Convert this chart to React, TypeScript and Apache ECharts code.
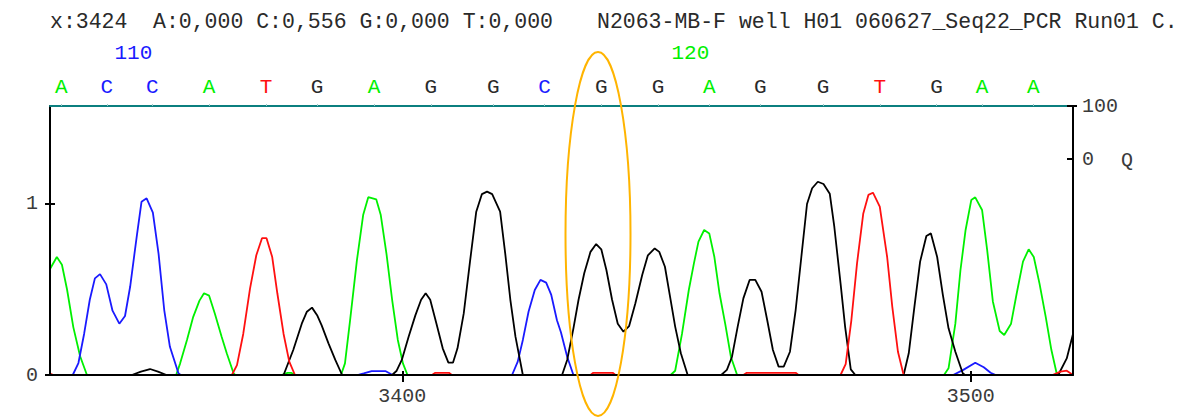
import React, { useEffect, useRef } from "react";
import * as echarts from "echarts";

// ---- axis ranges / ticks ----
const X_MIN = 3338;
const X_MAX = 3518;
const Y_MAX = 1.573;
const Q_MIN = -407.5;
const Q_MAX = 100;
const X_TICKS = [3400, 3500];
const Y_TICKS = [0, 1];
const Q_TICKS = [0, 100];

// ---- base calls ----
const BASES = ["A", "C", "C", "A", "T", "G", "A", "G", "G", "C", "G", "G", "A", "G", "G", "T", "G", "A", "A"];
const BASE_POS = [3340, 3348, 3356, 3366, 3376, 3385, 3395, 3405, 3416, 3425, 3435, 3445, 3454, 3463, 3474, 3484, 3494, 3502, 3511];
const FIRST_BASE_NUMBER = 108;
const NUMBERED = [110, 120];

// ---- header texts ----
const HEADER_CURSOR = "x:3424";
const HEADER_VALUES = "A:0,000 C:0,556 G:0,000 T:0,000";
const HEADER_SAMPLE = "N2063-MB-F well H01 060627_Seq22_PCR Run01 C.";

// ---- traces [scan, signal] ----
const TRACE_A = [
  [3338, 0.62], [3339.2, 0.69], [3340.1, 0.645], [3341, 0.5], [3342.1, 0.28], [3343.3, 0.11], [3344.5, 0],
  [3360.2, 0], [3360.9, 0.068], [3362.1, 0.205], [3363.2, 0.34], [3364.3, 0.435], [3365.1, 0.478], [3366, 0.464], [3367, 0.36], [3368.2, 0.224], [3369.1, 0.127], [3370.3, 0.01], [3370.6, 0],
  [3378.7, 0], [3379.8, 0.012], [3380.5, 0.012], [3381.2, 0],
  [3389.2, 0], [3389.9, 0.068], [3390.8, 0.32], [3392, 0.67], [3393.1, 0.935], [3394, 1.04], [3395.4, 1.027], [3396.2, 0.935], [3397.2, 0.71], [3398.2, 0.44], [3399.2, 0.205], [3400.1, 0.068], [3400.9, 0],
  [3447.2, 0], [3448, 0.025], [3449.2, 0.24], [3450.4, 0.497], [3451.3, 0.653], [3452.1, 0.78], [3453.1, 0.848], [3454, 0.828], [3454.9, 0.69], [3455.8, 0.478], [3456.8, 0.3], [3457.8, 0.107], [3458.9, 0],
  [3495.3, 0], [3496.1, 0.039], [3497.3, 0.3], [3498.2, 0.614], [3499.1, 0.848], [3500.1, 1.023], [3500.8, 1.039], [3502, 0.965], [3502.9, 0.73], [3503.9, 0.43], [3505.1, 0.257], [3505.9, 0.234], [3507.1, 0.3], [3508.1, 0.478], [3509.2, 0.663], [3510.2, 0.735], [3511.1, 0.69], [3512.1, 0.536], [3513.2, 0.34], [3514.2, 0.146], [3515.1, 0.013], [3515.5, 0], [3518, 0],
];

const TRACE_C = [
  [3338, 0], [3342, 0], [3343, 0.07], [3344, 0.24], [3345, 0.44], [3345.9, 0.565], [3346.8, 0.59], [3347.9, 0.53], [3349, 0.376], [3350.2, 0.3], [3351.2, 0.345], [3352.1, 0.516], [3353.3, 0.82], [3354.1, 1.013], [3355, 1.033], [3356.1, 0.95], [3357.1, 0.71], [3358.1, 0.38], [3359.1, 0.165], [3360.6, 0.01], [3361, 0],
  [3392.1, 0], [3393.2, 0.01], [3394.6, 0.023], [3397, 0.023], [3398.3, 0],
  [3419.3, 0], [3420.3, 0.078], [3421.2, 0.205], [3422.2, 0.37], [3423.3, 0.497], [3424.3, 0.556], [3425.3, 0.54], [3426.2, 0.468], [3427.2, 0.32], [3427.9, 0.25], [3429, 0.107], [3430.1, 0],
  [3496.9, 0], [3498.7, 0.03], [3500.8, 0.072], [3502.3, 0.045], [3503.5, 0.013], [3504.4, 0], [3518, 0],
];

const TRACE_G = [
  [3338, 0], [3352.4, 0], [3354, 0.02], [3355.6, 0.035], [3357, 0.02], [3358.5, 0],
  [3379.1, 0], [3380.8, 0.146], [3382.3, 0.3], [3383.2, 0.37], [3384.1, 0.394], [3385, 0.35], [3385.8, 0.29], [3387, 0.185], [3388.2, 0.088], [3389.4, 0],
  [3398.2, 0], [3399, 0.025], [3399.9, 0.088], [3401.1, 0.224], [3402.3, 0.35], [3403.3, 0.44], [3404.1, 0.478], [3404.9, 0.44], [3406, 0.3], [3407.1, 0.156], [3408.1, 0.072], [3408.9, 0.072], [3409.7, 0.156], [3410.8, 0.36], [3411.9, 0.663], [3413, 0.955], [3414, 1.058], [3414.9, 1.072], [3415.8, 1.058], [3417.2, 0.955], [3418.1, 0.71], [3419, 0.44], [3419.9, 0.224], [3421.2, 0],
  [3428.1, 0], [3429, 0.088], [3430.1, 0.273], [3431, 0.44], [3432, 0.595], [3433.1, 0.72], [3434.1, 0.766], [3435, 0.735], [3435.9, 0.614], [3436.9, 0.44], [3437.9, 0.3], [3438.9, 0.253], [3439.9, 0.286], [3441, 0.42], [3442.2, 0.585], [3443.2, 0.7], [3444.4, 0.74], [3445.2, 0.72], [3446.2, 0.633], [3447.1, 0.458], [3448, 0.283], [3449, 0.127], [3450.2, 0],
  [3456.1, 0], [3457.1, 0.03], [3458, 0.107], [3459, 0.283], [3460, 0.448], [3461.1, 0.556], [3462.1, 0.556], [3463.2, 0.487], [3464.2, 0.32], [3465.2, 0.146], [3466.2, 0.049], [3467.1, 0.049], [3468.2, 0.136], [3469.2, 0.38], [3470.2, 0.69], [3471.2, 1.0], [3472.1, 1.092], [3473.1, 1.13], [3474.1, 1.117], [3475.2, 1.06], [3476, 0.867], [3477.1, 0.536], [3477.9, 0.283], [3478.9, 0.033], [3479.7, 0],
  [3488.2, 0], [3489.1, 0.127], [3490.1, 0.4], [3491.1, 0.663], [3492.2, 0.813], [3493, 0.828], [3494.1, 0.69], [3495.1, 0.468], [3496.1, 0.273], [3497.3, 0.136], [3498.6, 0.01], [3499, 0],
  [3515.4, 0], [3516.9, 0.097], [3518, 0.24],
];

const TRACE_T = [
  [3338, 0.008], [3338.6, 0],
  [3370, 0], [3370.9, 0.058], [3372, 0.24], [3373.2, 0.507], [3374.3, 0.7], [3375.3, 0.8], [3376.1, 0.8], [3377.1, 0.69], [3378, 0.478], [3379.1, 0.24], [3380.1, 0.078], [3381.1, 0],
  [3405.2, 0], [3405.8, 0.013], [3408.2, 0.013], [3408.7, 0],
  [3433.1, 0], [3433.6, 0.013], [3437, 0.013], [3437.5, 0],
  [3460, 0], [3460.6, 0.013], [3469.2, 0.013], [3469.7, 0],
  [3477.1, 0], [3478, 0.064], [3479, 0.32], [3480, 0.653], [3481.1, 0.945], [3482, 1.053], [3482.8, 1.066], [3484, 0.984], [3485.3, 0.69], [3486.2, 0.4], [3487.2, 0.136], [3488.2, 0],
  [3514.4, 0], [3515.8, 0.02], [3516.9, 0.025], [3518, 0],
];

const COLORS: Record<string, string> = { A: "#00f000", C: "#1a1aff", G: "#2a2a2a", T: "#ff1010" };
const MONO = "'Liberation Mono', 'DejaVu Sans Mono', monospace";

const rich = {
  A: { color: COLORS.A, fontFamily: MONO, fontSize: 21 },
  C: { color: COLORS.C, fontFamily: MONO, fontSize: 21 },
  G: { color: COLORS.G, fontFamily: MONO, fontSize: 21 },
  T: { color: COLORS.T, fontFamily: MONO, fontSize: 21 },
};

function baseIndexOf(v: number) {
  let best = 0;
  for (let i = 0; i < BASE_POS.length; i++) {
    if (Math.abs(BASE_POS[i] - v) < Math.abs(BASE_POS[best] - v)) best = i;
  }
  return best;
}

export default function App() {
  const ref = useRef<HTMLDivElement>(null);
  useEffect(() => {
    document.body.style.margin = "0";
    const chart = echarts.init(ref.current!, null, { renderer: "svg" });
    const numberedPos = NUMBERED.map((n) => BASE_POS[n - FIRST_BASE_NUMBER]);
    const axisLabelStyle = { fontFamily: MONO, fontSize: 20, color: "#3a3a3a" };
    const plain = (v: number) => String(v);
    const traceSeries = (name: string, data: number[][], color: string) => ({
      type: "line",
      name,
      data,
      xAxisIndex: 0,
      yAxisIndex: 0,
      showSymbol: false,
      symbol: "none",
      silent: true,
      lineStyle: { color, width: 1.8 },
      z: 2,
    });
    chart.setOption({
      animation: false,
      backgroundColor: "#ffffff",
      grid: { left: 50, top: 106, width: 1023, height: 269 },
      xAxis: [
        {
          type: "value", position: "bottom", min: X_MIN, max: X_MAX, z: 10,
          axisLine: { onZero: false, lineStyle: { color: "#000", width: 2 } },
          axisTick: { customValues: X_TICKS, length: 7, lineStyle: { color: "#000", width: 2 } },
          axisLabel: { customValues: X_TICKS, margin: 11, formatter: plain, ...axisLabelStyle },
          splitLine: { show: false },
        },
        {
          type: "value", position: "bottom", min: X_MIN, max: X_MAX, z: 10,
          axisLine: { show: false, onZero: false },
          axisTick: { customValues: X_TICKS, inside: true, length: 4, lineStyle: { color: "#000", width: 2 } },
          axisLabel: { show: false },
          splitLine: { show: false },
        },
        {
          type: "value", position: "top", min: X_MIN, max: X_MAX, z: 10,
          axisLine: { onZero: false, lineStyle: { color: "#0b7f7f", width: 2 } },
          axisTick: { customValues: BASE_POS, length: 2, lineStyle: { color: "#9cc9c9", width: 1 } },
          axisLabel: {
            customValues: BASE_POS,
            margin: 8,
            formatter: (v: number) => {
              const b = BASES[baseIndexOf(v)];
              return `{${b}|${b}}`;
            },
            rich,
          },
          splitLine: { show: false },
        },
        {
          type: "value", position: "top", offset: 34, min: X_MIN, max: X_MAX,
          axisLine: { show: false, onZero: false },
          axisTick: { show: false },
          axisLabel: {
            customValues: numberedPos,
            margin: 8,
            align: "right",
            formatter: (v: number) => {
              const i = baseIndexOf(v);
              return `{${BASES[i]}|${FIRST_BASE_NUMBER + i}}`;
            },
            rich,
          },
          splitLine: { show: false },
        },
      ],
      yAxis: [
        {
          type: "value", position: "left", min: 0, max: Y_MAX, z: 10,
          axisLine: { show: true, onZero: false, lineStyle: { color: "#000", width: 2 } },
          axisTick: { show: true, customValues: Y_TICKS, length: 5, lineStyle: { color: "#000", width: 2 } },
          axisLabel: { customValues: Y_TICKS, margin: 12, formatter: plain, ...axisLabelStyle },
          splitLine: { show: false },
        },
        {
          type: "value", position: "left", min: 0, max: Y_MAX, z: 10,
          axisLine: { show: false, onZero: false },
          axisTick: { show: true, customValues: Y_TICKS, inside: true, length: 5, lineStyle: { color: "#000", width: 2 } },
          axisLabel: { show: false },
          splitLine: { show: false },
        },
        {
          type: "value", position: "right", min: Q_MIN, max: Q_MAX, z: 10,
          axisLine: { show: true, onZero: false, lineStyle: { color: "#000", width: 2 } },
          axisTick: { show: true, customValues: Q_TICKS, inside: true, length: 6, lineStyle: { color: "#000", width: 2 } },
          axisLabel: { customValues: Q_TICKS, margin: 9, formatter: plain, ...axisLabelStyle },
          splitLine: { show: false },
        },
        {
          type: "value", position: "right", min: Q_MIN, max: Q_MAX, z: 10,
          axisLine: { show: false, onZero: false },
          axisTick: { show: true, customValues: [Q_MAX], length: 4, lineStyle: { color: "#000", width: 2 } },
          axisLabel: { show: false },
          splitLine: { show: false },
        },
      ],
      series: [
        traceSeries("A", TRACE_A, COLORS.A),
        traceSeries("C", TRACE_C, COLORS.C),
        traceSeries("G", TRACE_G, "#000000"),
        traceSeries("T", TRACE_T, COLORS.T),
      ],
      graphic: [
        {
          type: "text", x: 50, y: 22, silent: true,
          style: { text: HEADER_CURSOR, font: `21.5px ${MONO}`, fill: "#2a2a2a", verticalAlign: "middle" },
        },
        {
          type: "text", x: 153, y: 22, silent: true,
          style: { text: HEADER_VALUES, font: `21.5px ${MONO}`, fill: "#2a2a2a", verticalAlign: "middle" },
        },
        {
          type: "text", x: 597, y: 22, silent: true,
          style: { text: HEADER_SAMPLE, font: `21.5px ${MONO}`, fill: "#2a2a2a", verticalAlign: "middle" },
        },
        {
          type: "text", x: 1127, y: 160, silent: true,
          style: { text: "Q", font: `20px ${MONO}`, fill: "#3a3a3a", align: "center", verticalAlign: "middle" },
        },
        {
          type: "ellipse", silent: true, z: 100,
          shape: { cx: 598, cy: 234, rx: 32.5, ry: 182 },
          style: { fill: "none", stroke: "#ffb400", lineWidth: 2 },
        },
      ],
    });
    return () => chart.dispose();
  }, []);
  return <div ref={ref} style={{ width: 1189, height: 418 }} />;
}
